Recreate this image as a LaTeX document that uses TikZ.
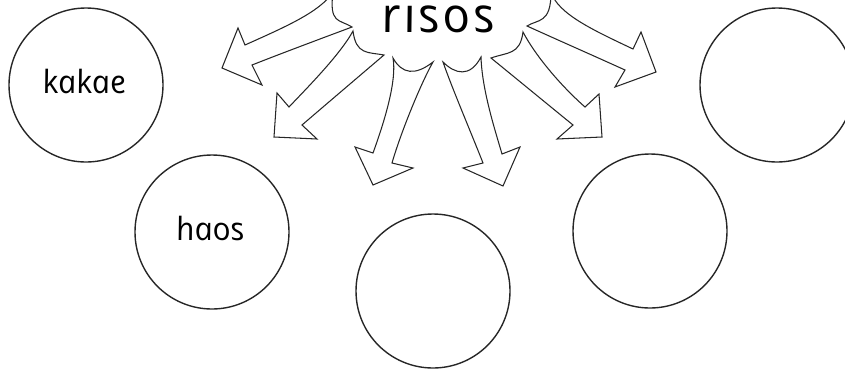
\documentclass[tikz,border=0pt]{standalone}
\usepackage{fontspec}
\newfontfamily\handfont{Open Sans}[ItalicFeatures={FakeSlant=-0.2}]
\newfontfamily\headfont{Open Sans}[ItalicFeatures={FakeSlant=-0.2, LetterSpace=6}]
\tikzset{
  bubble/.style={circle, draw=black!85, line width=1.4pt, minimum size=154pt,
    inner sep=0pt, font=\handfont\itshape\fontsize{32}{32}\selectfont,
    text height=17pt, text depth=0pt},
  heading/.style={font=\headfont\itshape\fontsize{49}{49}\selectfont, inner sep=0pt},
  blockarrow/.style={draw=black!85, line width=1.05pt, line join=miter, fill=white}
}
\begin{document}
\begin{tikzpicture}[x=1pt, y=-1pt]
\useasboundingbox (0,0) rectangle (845,368);

% heading word
\node[heading, anchor=base] (title) at (441,32) {rısos};

% left-hand block arrows
\draw[blockarrow] (333,-8) .. controls (329,24) and (339,19) .. (352,27)
  .. controls (320,39) and (285,52) .. (252,65)
  -- (262,85) -- (222,68) -- (238,28) -- (245,45)
  .. controls (285,27) and (320,12) .. (333,-8) -- cycle;
\draw[blockarrow] (353,31) .. controls (356,55) and (368,52) .. (384,55)
  .. controls (357,78) and (330,101) .. (302,125)
  -- (317,139) -- (274,137) -- (277,93) -- (289,107)
  .. controls (305,90) and (340,55) .. (353,31) -- cycle;
\draw[blockarrow] (393,58) .. controls (402,74) and (415,76) .. (433,62)
  .. controls (420,85) and (400,135) .. (392,163)
  -- (413,168) -- (373,185) -- (355,147) -- (373,153)
  .. controls (385,120) and (397,80) .. (393,58) -- cycle;

% right-hand block arrows
\draw[blockarrow] (443,62) .. controls (455,74) and (470,78) .. (481,57)
  .. controls (482,90) and (495,130) .. (502,154)
  -- (520,147) -- (503,186) -- (463,168) -- (483,163)
  .. controls (470,130) and (452,88) .. (443,62) -- cycle;
\draw[blockarrow] (523,32) .. controls (520,55) and (508,52) .. (491,58)
  .. controls (518,80) and (546,103) .. (573,125)
  -- (557,139) -- (602,137) -- (599,94) -- (585,107)
  .. controls (560,85) and (535,55) .. (523,32) -- cycle;
\draw[blockarrow] (551,-8) .. controls (551,24) and (538,19) .. (527,26)
  .. controls (560,41) and (592,55) .. (625,70)
  -- (615,87) -- (656,72) -- (641,32) -- (633,49)
  .. controls (593,30) and (558,14) .. (551,-8) -- cycle;

% word circles
\node[bubble] (kakae) at (86,85) {kakae};
\node[bubble] (haos) at (212,232) {haos};
\node[bubble] (c3) at (433,291) {};
\node[bubble] (c4) at (650,231) {};
\node[bubble] (c5) at (777,85) {};
\end{tikzpicture}
\end{document}
